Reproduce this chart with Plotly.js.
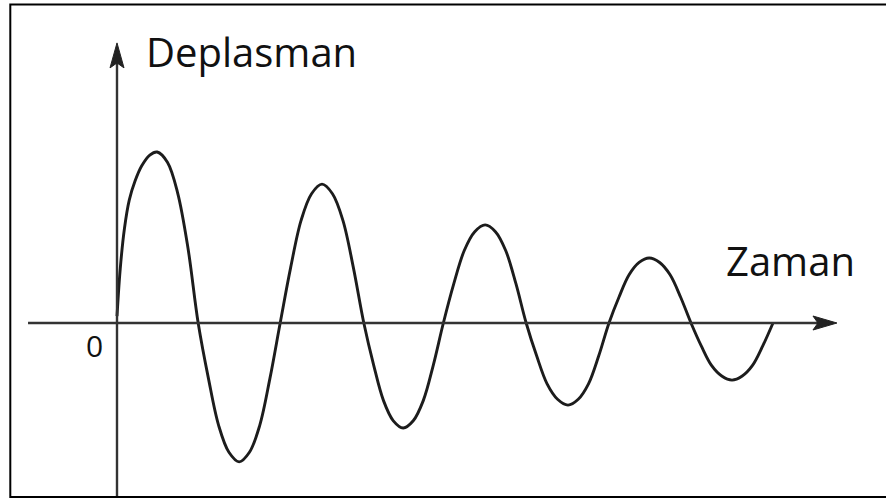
<!DOCTYPE html>
<html>
<head>
<meta charset="utf-8">
<script src="https://cdn.plot.ly/plotly-3.0.1.min.js"></script>
<style>
  html, body { margin: 0; padding: 0; background: #fff; }
  #chart { width: 886px; height: 500px; }
</style>
</head>
<body>
<div id="chart"></div>
<script>
// Damped oscillation: displacement against time (arbitrary units)
const timeVals = [
  0, 0.04, 0.09, 0.15, 0.22, 0.30, 0.40, 0.49,
  0.615, 0.74, 0.865, 0.99,
  1.115, 1.24, 1.365, 1.49, 1.615, 1.74, 1.865, 1.99,
  2.1175, 2.245, 2.3725, 2.50, 2.6275, 2.755, 2.8825, 3.01,
  3.13, 3.25, 3.37, 3.49, 3.6125, 3.735, 3.8575, 3.98,
  4.1075, 4.235, 4.3625, 4.49, 4.615, 4.74, 4.865, 4.99,
  5.1175, 5.245, 5.3725, 5.50, 5.625, 5.75, 5.875, 6.00,
  6.1225, 6.245, 6.3675, 6.49, 6.6175, 6.745, 6.8725, 7.00,
  7.125, 7.25, 7.375, 7.50, 7.625, 7.75, 7.875, 8.00
];
const dispVals = [
  0.2, 1.60, 2.75, 3.60, 4.15, 4.59, 4.91, 5.00,
  4.70, 3.80, 2.20, 0,
  -1.62, -3.00, -3.78, -4.06, -3.78, -3.00, -1.62, 0,
  1.62, 3.00, 3.78, 4.06, 3.78, 3.00, 1.62, 0,
  -1.23, -2.27, -2.86, -3.07, -2.86, -2.27, -1.23, 0,
  1.15, 2.12, 2.67, 2.87, 2.67, 2.12, 1.15, 0,
  -0.96, -1.78, -2.23, -2.40, -2.23, -1.78, -0.96, 0,
  0.76, 1.41, 1.77, 1.90, 1.77, 1.41, 0.76, 0,
  -0.67, -1.24, -1.55, -1.67, -1.55, -1.24, -0.67, 0
];

const yLabel = 'Deplasman';
const xLabel = 'Zaman';
const originLabel = '0';

const axisColor = '#333333';
const inkColor = '#111111';
const textFont = { family: 'Open Sans, Noto Sans, sans-serif', size: 40, color: inkColor };

// axis extents (data units)
const xAxisStart = -1.085, xAxisTip = 8.78;
const yAxisStart = -5.06, yAxisTip = 8.19;

const W = 886, H = 500;
const px = v => v / W;
const py = v => 1 - v / H;

const trace = {
  x: timeVals,
  y: dispVals,
  type: 'scatter',
  mode: 'lines',
  line: { color: '#1c1c1c', width: 2.9, shape: 'spline', smoothing: 1 },
  hoverinfo: 'skip',
  showlegend: false
};

const shapes = [
  // frame around the figure
  { type: 'rect', xref: 'paper', yref: 'paper',
    x0: px(10.3), x1: 1.05, y0: py(497), y1: py(4.4),
    line: { color: '#000', width: 2 }, fillcolor: 'rgba(0,0,0,0)', layer: 'below' },
  // time axis
  { type: 'line', xref: 'x', yref: 'y', x0: xAxisStart, x1: xAxisTip - 0.2, y0: 0, y1: 0,
    line: { color: axisColor, width: 2.4 } },
  // displacement axis
  { type: 'line', xref: 'x', yref: 'y', x0: 0, x1: 0, y0: yAxisStart, y1: yAxisTip - 0.4,
    line: { color: axisColor, width: 2.4 } },
  // arrowhead on the time axis
  { type: 'path', xref: 'x', yref: 'y',
    xsizemode: 'pixel', ysizemode: 'pixel', xanchor: xAxisTip, yanchor: 0,
    path: 'M0,0 L-24,7 L-19,0 L-24,-7 Z',
    fillcolor: '#222', line: { color: '#222', width: 1 } },
  // arrowhead on the displacement axis
  { type: 'path', xref: 'x', yref: 'y',
    xsizemode: 'pixel', ysizemode: 'pixel', xanchor: 0, yanchor: yAxisTip,
    path: 'M0,0 L-7,-25 L0,-20 L7,-25 Z',
    fillcolor: '#222', line: { color: '#222', width: 1 } }
];

const annotations = [
  { text: yLabel, xref: 'paper', yref: 'paper', x: px(144), y: py(52),
    xanchor: 'left', yanchor: 'middle', showarrow: false, font: textFont },
  { text: xLabel, xref: 'paper', yref: 'paper', x: px(724), y: py(260),
    xanchor: 'left', yanchor: 'middle', showarrow: false, font: textFont },
  { text: originLabel, xref: 'paper', yref: 'paper', x: px(94), y: py(345),
    xanchor: 'center', yanchor: 'middle', showarrow: false,
    font: { family: textFont.family, size: 30, color: inkColor } }
];

const layout = {
  width: W, height: H,
  margin: { l: 0, r: 0, t: 0, b: 0, pad: 0 },
  paper_bgcolor: '#ffffff',
  plot_bgcolor: '#ffffff',
  xaxis: { range: [-117 / 82, (W - 117) / 82], visible: false, fixedrange: true },
  yaxis: { range: [(323 - H) / 34.2, 323 / 34.2], visible: false, fixedrange: true },
  shapes: shapes,
  annotations: annotations,
  showlegend: false
};

Plotly.newPlot('chart', [trace], layout, { displayModeBar: false, staticPlot: true });
</script>
</body>
</html>
